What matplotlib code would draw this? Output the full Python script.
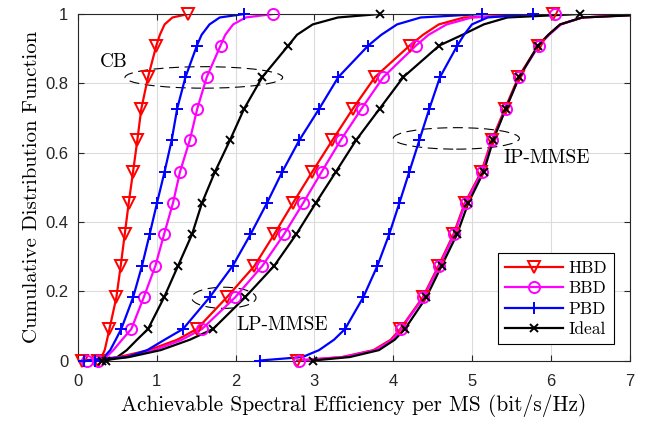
import matplotlib
matplotlib.use("Agg")
import matplotlib.pyplot as plt
from matplotlib.patches import Ellipse
from matplotlib.lines import Line2D

# CDF levels where x-values were read; markers sit on the k/11 levels
levels = [0.0, 0.01, 0.03, 0.06, 0.091, 0.182, 0.273, 0.364, 0.455,
          0.545, 0.636, 0.727, 0.818, 0.909, 0.94, 0.97, 0.99, 1.0]
mark_idx = [0, 4, 5, 6, 7, 8, 9, 10, 11, 12, 13, 17]

# CB
cb_hbd = [0.26, 0.30, 0.34, 0.37, 0.40, 0.488, 0.543, 0.594, 0.645, 0.70,
          0.754, 0.805, 0.89, 0.995, 1.04, 1.10, 1.20, 1.40]
cb_bbd = [0.25, 0.36, 0.45, 0.56, 0.678, 0.835, 0.983, 1.093, 1.207, 1.296,
          1.42, 1.515, 1.635, 1.81, 1.87, 1.97, 2.13, 2.48]
cb_pbd = [0.22, 0.33, 0.41, 0.48, 0.55, 0.70, 0.813, 0.91, 1.004, 1.10,
          1.19, 1.26, 1.365, 1.51, 1.57, 1.67, 1.80, 2.11]
cb_ideal = [0.36, 0.50, 0.62, 0.75, 0.89, 1.093, 1.27, 1.448, 1.575, 1.74,
            1.93, 2.11, 2.34, 2.67, 2.78, 2.98, 3.30, 3.83]

# LP-MMSE
lp_hbd = [0.05, 0.52, 0.90, 1.26, 1.51, 1.888, 2.24, 2.49, 2.73, 2.975,
          3.23, 3.49, 3.77, 4.21, 4.38, 4.58, 4.90, 6.03]
lp_bbd = [0.12, 0.58, 0.97, 1.32, 1.575, 1.994, 2.34, 2.615, 2.86, 3.094,
          3.335, 3.60, 3.876, 4.29, 4.45, 4.68, 5.00, 6.05]
lp_pbd = [0.08, 0.62, 0.88, 1.10, 1.334, 1.67, 1.964, 2.19, 2.40, 2.594,
          2.81, 3.063, 3.305, 3.685, 3.85, 4.05, 4.35, 5.13]
lp_ideal = [0.30, 0.65, 1.05, 1.42, 1.715, 2.12, 2.49, 2.77, 3.02, 3.275,
            3.53, 3.83, 4.13, 4.586, 4.88, 5.15, 5.45, 6.37]

# IP-MMSE
ip_hbd = [2.78, 3.35, 3.75, 3.97, 4.09, 4.375, 4.575, 4.765, 4.91, 5.12,
          5.25, 5.42, 5.59, 5.84, 5.97, 6.12, 6.40, 7.3]
ip_bbd = [2.80, 3.37, 3.77, 3.99, 4.10, 4.385, 4.585, 4.775, 4.92, 5.13,
          5.26, 5.43, 5.60, 5.85, 5.98, 6.13, 6.40, 7.3]
ip_pbd = [2.31, 2.85, 3.06, 3.25, 3.39, 3.62, 3.80, 3.95, 4.08, 4.206,
          4.333, 4.46, 4.595, 4.815, 4.90, 5.00, 5.20, 5.77]
ip_ideal = [2.98, 3.45, 3.82, 4.02, 4.15, 4.42, 4.615, 4.81, 4.955, 5.15,
            5.27, 5.43, 5.60, 5.84, 5.97, 6.12, 6.40, 7.4]

labels = ["HBD", "BBD", "PBD", "Ideal"]
colors = ["#ff0000", "#ff00ff", "#0000ff", "#000000"]
markers = ["v", "o", "+", "x"]
msizes = [9, 8, 9, 6]
groups = [
    [cb_hbd, cb_bbd, cb_pbd, cb_ideal],
    [lp_hbd, lp_bbd, lp_pbd, lp_ideal],
    [ip_hbd, ip_bbd, ip_pbd, ip_ideal],
]

serif = ["cmr10", "DejaVu Serif"]
plt.rcParams["axes.unicode_minus"] = False

fig = plt.figure(figsize=(6.46, 4.22), dpi=100)
ax = fig.add_axes([0.1206, 0.1457, 0.8539, 0.8211])
ax.set_xlim(0, 7)
ax.set_ylim(0, 1)

for grp in groups:
    for si, xs in enumerate(grp):
        ax.plot(xs, levels, color=colors[si], lw=1.6, zorder=2)
        # markers drawn whole at the axes edges, like MATLAB does
        mx = [xs[i] for i in mark_idx if xs[i] <= 7]
        my = [levels[i] for i in mark_idx if xs[i] <= 7]
        ax.plot(mx, my, ls="none", marker=markers[si], ms=msizes[si],
                mfc="none", mec=colors[si], mew=1.4, clip_on=False, zorder=3)

# dashed ellipses marking each receiver group
for cx, cy, w, h in [(1.598, 0.817, 2.0, 0.062),
                     (1.852, 0.181, 0.816, 0.061),
                     (4.802, 0.641, 1.60, 0.062)]:
    ax.add_patch(Ellipse((cx, cy), w, h, fill=False, ec="black", lw=0.8,
                         ls=(0, (9, 5))))

ax.text(0.45, 0.862, "CB", fontsize=14, family=serif, ha="center", va="center")
ax.text(2.586, 0.102, "LP-MMSE", fontsize=14, family=serif, ha="center", va="center")
ax.text(5.95, 0.584, "IP-MMSE", fontsize=14, family=serif, ha="center", va="center")

ax.set_xticks(range(8))
ax.set_yticks([0, 0.2, 0.4, 0.6, 0.8, 1])
ax.set_yticklabels(["0", "0.2", "0.4", "0.6", "0.8", "1"])
ax.grid(True, color="#dcdcdc", lw=0.8)
ax.set_axisbelow(True)
ax.tick_params(direction="in", length=4, top=True, right=True,
               labelsize=12, colors="#262626", width=0.8)
ax.tick_params(axis="x", pad=10)
ax.tick_params(axis="y", pad=7)
for lab in ax.get_xticklabels() + ax.get_yticklabels():
    lab.set_family("Liberation Sans")
for sp in ax.spines.values():
    sp.set_color("#262626")
    sp.set_linewidth(0.8)

ax.set_xlabel("Achievable Spectral Efficiency per MS (bit/s/Hz)",
              fontsize=15.4, family=serif, labelpad=3)
ax.set_ylabel("Cumulative Distribution Function", fontsize=15, family=serif,
              labelpad=3)

handles = [Line2D([], [], color=colors[i], lw=1.6, marker=markers[i],
                  ms=msizes[i], mfc="none", mec=colors[i], mew=1.4)
           for i in range(4)]
leg = ax.legend(handles, labels, loc="lower right",
                bbox_to_anchor=(0.9724, 0.0468),
                borderaxespad=0, prop={"family": serif, "size": 12.5},
                fancybox=False, edgecolor="black", framealpha=1,
                handlelength=3.3, handletextpad=0.35, labelspacing=0.3,
                borderpad=0.4)
leg.get_frame().set_linewidth(0.8)

fig.savefig("out.png", dpi=100)
